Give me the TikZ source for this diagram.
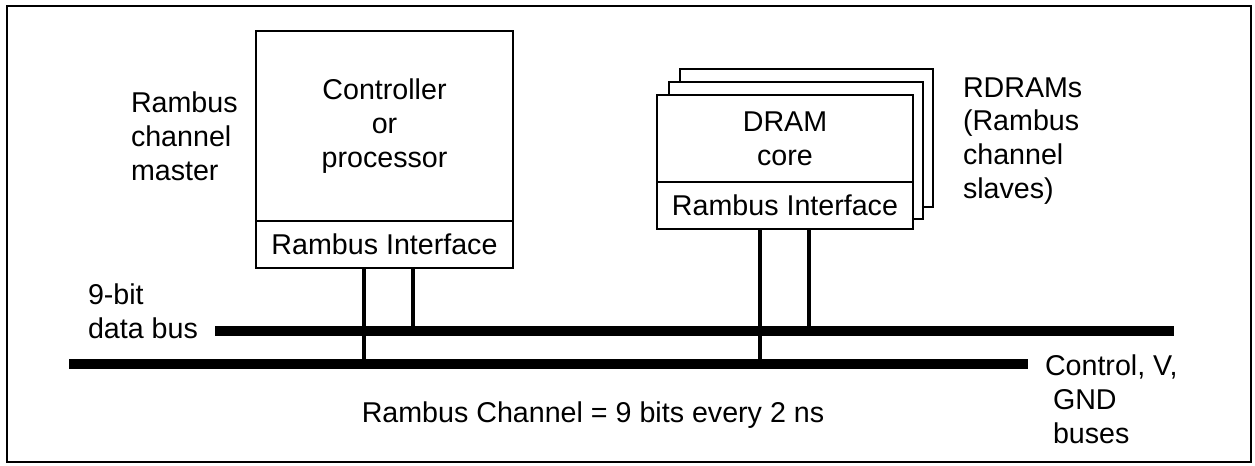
\documentclass[tikz,border=0pt]{standalone}
\usepackage{fontspec}
\setmainfont{Liberation Sans}
\usetikzlibrary{positioning}

\begin{document}
\begin{tikzpicture}[x=0.02cm, y=-0.02cm,
    every node/.style={font=\fontsize{16.3}{19.3}\selectfont, inner sep=0pt, outer sep=0pt},
    chip/.style={draw, line width=1.1pt, fill=white, minimum width=5.13cm, align=center},
    wire/.style={line width=2pt},
    bus/.style={line width=6.2pt}]

    % ==========================================
    % Frame
    % ==========================================
    \useasboundingbox (0,0) rectangle (1255,466);
    \draw[line width=1.2pt] (7,6) rectangle (1251,462);

    % ==========================================
    % Buses
    % ==========================================
    \coordinate (dbus w) at (215,331);
    \coordinate (dbus e) at (1174,331);
    \coordinate (cbus w) at (69,364);
    \coordinate (cbus e) at (1028,364);
    \draw[bus] (dbus w) -- (dbus e);
    \draw[bus] (cbus w) -- (cbus e);

    % ==========================================
    % Master: controller or processor
    % ==========================================
    \node[chip, minimum height=3.8cm] (ctrl) at (384.5,126) {Controller\\or\\processor};
    \node[chip, minimum height=0.94cm, below=0pt of ctrl] (ctrlif) {Rambus Interface};
    \node[anchor=west, align=left] (master) at (131,136) {Rambus\\channel\\master};

    \draw[wire] ([xshift=-0.41cm]ctrlif.south) -- ([xshift=-0.41cm]ctrlif.south |- cbus w);
    \draw[wire] ([xshift=0.57cm]ctrlif.south) -- ([xshift=0.57cm]ctrlif.south |- dbus w);

    % ==========================================
    % Slaves: stack of RDRAMs
    % ==========================================
    \def\W{5.12cm}
    \draw[line width=1.1pt, fill=white] (680,69) rectangle (933,207);
    \draw[line width=1.1pt, fill=white] (669,82) rectangle (923,219);
    \node[chip, minimum width=\W, minimum height=1.74cm] (core) at (785,138.5) {DRAM\\core};
    \node[chip, minimum width=\W, minimum height=0.94cm, below=0pt of core] (dramif) {Rambus Interface};
    \node[anchor=west, align=left] (slaves) at (963,141) {RDRAMs\\(Rambus\\channel\\slaves)};

    \draw[wire] ([xshift=-0.5cm]dramif.south) -- ([xshift=-0.5cm]dramif.south |- cbus w);
    \draw[wire] ([xshift=0.48cm]dramif.south) -- ([xshift=0.48cm]dramif.south |- dbus w);

    % ==========================================
    % Labels
    % ==========================================
    \node[anchor=west, align=left] (dlabel) at (88,311) {9-bit\\data bus};
    \node[anchor=west, align=left] (clabel) at (1045,399) {Control, V,\\\hspace{0.16cm}GND\\\hspace{0.16cm}buses};
    \node (rate) at (593,415) {Rambus Channel = 9 bits every 2 ns};

\end{tikzpicture}
\end{document}
